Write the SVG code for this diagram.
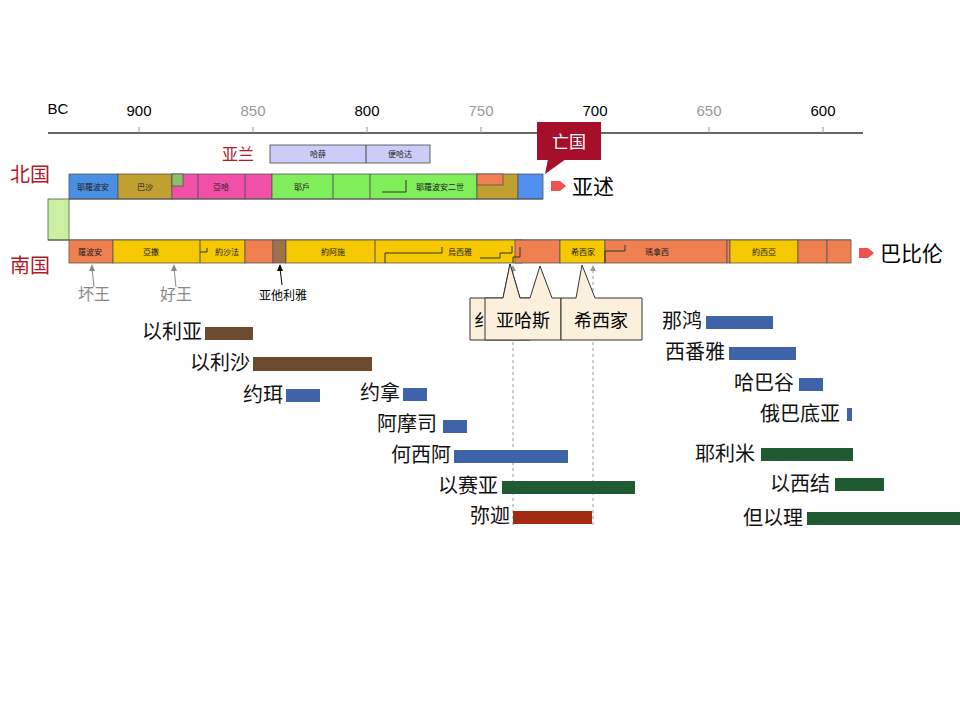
<svg xmlns="http://www.w3.org/2000/svg" width="960" height="720" viewBox="0 0 960 720">
<style>
text{font-family:"Noto Sans CJK SC","Liberation Sans",sans-serif}
.ax{font-family:"Liberation Sans",Arial,sans-serif;font-size:15px;text-anchor:middle}
.g{fill:#999}
.s{font-size:8px;text-anchor:middle;fill:#222}
.p{font-size:20px;text-anchor:end;fill:#111}
.seg{stroke:#555;stroke-width:0.8}
.br{fill:#6b4a2f}.bl{fill:#3f63a8}.gr{fill:#1f5a32}.rd{fill:#a32a10}
.cb{fill:#fbf0dc;stroke:#333;stroke-width:1}
</style>
<rect width="960" height="720" fill="#fff"/>
<g id="axis">
<line x1="48" y1="133" x2="863" y2="133" stroke="#333" stroke-width="1.5"/>
<g stroke="#999"><line x1="139" y1="127" x2="139" y2="133"/><line x1="253" y1="127" x2="253" y2="133"/><line x1="367" y1="127" x2="367" y2="133"/><line x1="481" y1="127" x2="481" y2="133"/><line x1="595" y1="127" x2="595" y2="133"/><line x1="709" y1="127" x2="709" y2="133"/><line x1="823" y1="127" x2="823" y2="133"/></g>
<text class="ax" x="58" y="114" font-size="14">BC</text>
<text class="ax" x="139" y="116">900</text><text class="ax g" x="253" y="116">850</text><text class="ax" x="367" y="116">800</text><text class="ax g" x="481" y="116">750</text><text class="ax" x="595" y="116">700</text><text class="ax g" x="709" y="116">650</text><text class="ax" x="823" y="116">600</text>
</g>
<g id="aram">
<text x="238" y="160" font-size="16" fill="#b01a2a" text-anchor="middle">亚兰</text>
<rect x="270" y="145" width="160" height="18" fill="#ccccf8" stroke="#444" stroke-width="0.8"/>
<line x1="366" y1="145" x2="366" y2="163" stroke="#444"/>
<text class="s" x="318" y="157">哈薛</text><text class="s" x="400" y="157">便哈达</text>
</g>
<g id="north">
<text x="10" y="182" font-size="20" fill="#b01a2a">北国</text>
<rect x="69" y="174" width="49" height="25" fill="#4a90e2" class="seg"/>
<rect x="118" y="174" width="54" height="25" fill="#c0a030" class="seg"/>
<rect x="172" y="174" width="100" height="25" fill="#f050a8" class="seg"/>
<rect x="172" y="174" width="11" height="12" fill="#8cbf6a" class="seg"/>
<line x1="198" y1="174" x2="198" y2="199" stroke="#555"/><line x1="245" y1="174" x2="245" y2="199" stroke="#555"/>
<rect x="272" y="174" width="205" height="25" fill="#7fee5a" class="seg"/>
<line x1="333" y1="174" x2="333" y2="199" stroke="#555"/><line x1="370" y1="174" x2="370" y2="199" stroke="#555"/>
<path d="M382 192H406V180" fill="none" stroke="#333"/>
<rect x="477" y="174" width="41" height="25" fill="#c0a030" class="seg"/>
<rect x="477" y="174" width="26" height="11" fill="#f08050" class="seg"/>
<rect x="518" y="174" width="25" height="25" fill="#5090ee" class="seg"/>
<text class="s" x="93" y="190">耶羅波安</text><text class="s" x="145" y="190">巴沙</text><text class="s" x="221" y="190">亞哈</text><text class="s" x="302" y="190">耶戶</text><text class="s" x="440" y="190">耶羅波安二世</text>
</g>
<g id="between">
<rect x="48" y="199" width="21" height="41" fill="#c8f0a0" stroke="#555" stroke-width="0.8"/>
<line x1="69" y1="199" x2="543" y2="199" stroke="#555"/>
<line x1="48" y1="240" x2="851" y2="240" stroke="#555"/>
</g>
<g id="collapse">
<rect x="537" y="122" width="64" height="38" fill="#a50f2a"/>
<path d="M548 159 L545 174 L566 159Z" fill="#a50f2a"/>
<text x="569" y="148" font-size="17" fill="#fff" text-anchor="middle">亡国</text>
<path d="M551 181h9l6 5l-6 5h-9z" fill="#f05050"/>
<text x="572" y="194" font-size="21">亚述</text>
</g>
<g id="south">
<text x="10" y="273" font-size="20" fill="#b01a2a">南国</text>
<rect x="69" y="240" width="44" height="23" fill="#f08050" class="seg"/>
<rect x="113" y="240" width="132" height="23" fill="#f5c800" class="seg"/>
<line x1="200" y1="240" x2="200" y2="263" stroke="#555"/>
<path d="M200 252H207V248M245 253H257V246" fill="none" stroke="#333"/>
<rect x="245" y="240" width="28" height="23" fill="#f08050" class="seg"/>
<rect x="273" y="240" width="13" height="23" fill="#a0704a" class="seg"/>
<rect x="286" y="240" width="236" height="23" fill="#f5c800" class="seg"/>
<line x1="375" y1="240" x2="375" y2="263" stroke="#555"/>
<path d="M385 263V253H442V247M480 258H500V253H512V246" fill="none" stroke="#333"/>
<rect x="515" y="240" width="45" height="23" fill="#f08050" class="seg"/>
<path d="M513 263V257H520V247" fill="none" stroke="#333"/>
<rect x="560" y="240" width="45" height="23" fill="#f5c800" class="seg"/>
<rect x="605" y="240" width="122" height="23" fill="#f08050" class="seg"/>
<path d="M605 263V251H625V245" fill="none" stroke="#333"/>
<rect x="727" y="240" width="3" height="23" fill="#f08050" class="seg"/>
<rect x="730" y="240" width="68" height="23" fill="#f5c800" class="seg"/>
<rect x="798" y="240" width="29" height="23" fill="#f08050" class="seg"/>
<rect x="827" y="240" width="24" height="23" fill="#f08050" class="seg"/>
<text class="s" x="90" y="255">羅波安</text><text class="s" x="151" y="255">亞撒</text><text class="s" x="227" y="255">約沙法</text><text class="s" x="333" y="255">約阿施</text><text class="s" x="460" y="255">烏西雅</text><text class="s" x="583" y="255">希西家</text><text class="s" x="657" y="255">瑪拿西</text><text class="s" x="764" y="255">約西亞</text>
<path d="M859 248h9l6 5l-6 5h-9z" fill="#f05050"/>
<text x="880" y="261" font-size="21">巴比伦</text>
</g>
<g id="kings">
<path d="M94 287 L92 268" stroke="#888" fill="none"/><path d="M92 264l-3 7h6z" fill="#888"/>
<text x="94" y="300" font-size="16" fill="#888" text-anchor="middle">坏王</text>
<path d="M176 287 L174 268" stroke="#888" fill="none"/><path d="M174 264l-3 7h6z" fill="#888"/>
<text x="176" y="300" font-size="16" fill="#888" text-anchor="middle">好王</text>
<path d="M282 285 L280 268" stroke="#000" fill="none"/><path d="M280 264l-3 7h6z" fill="#000"/>
<text x="283" y="300" font-size="12" text-anchor="middle">亚他利雅</text>
</g>
<g id="refs" stroke="#999" stroke-dasharray="3,3">
<line x1="513" y1="270" x2="513" y2="525"/><line x1="593" y1="270" x2="593" y2="525"/>
</g>
<path d="M513 265l-3 6h6zM593 265l-3 6h6z" fill="#999"/>
<g id="callouts">
<path d="M470 298H503L510 264L520 298H530V340H470Z" class="cb"/>
<text x="474" y="327" font-size="18">纟</text>
<path d="M485 298H503L510 264L520 298H530L540 266L552 298H561V340H485Z" class="cb"/>
<text x="523" y="327" font-size="18" text-anchor="middle">亚哈斯</text>
<path d="M561 298H576L582 265L595 298H642V340H561Z" class="cb"/>
<text x="601" y="327" font-size="18" text-anchor="middle">希西家</text>
</g>
<g id="prophets">
<text class="p" x="202" y="339">以利亚</text><rect class="br" x="205" y="327" width="48" height="13"/>
<text class="p" x="250" y="370">以利沙</text><rect class="br" x="253" y="357" width="119" height="14"/>
<text class="p" x="283" y="402">约珥</text><rect class="bl" x="286" y="389" width="34" height="13"/>
<text class="p" x="400" y="400">约拿</text><rect class="bl" x="403" y="388" width="24" height="13"/>
<text class="p" x="437" y="431">阿摩司</text><rect class="bl" x="443" y="420" width="24" height="13"/>
<text class="p" x="451" y="462">何西阿</text><rect class="bl" x="454" y="450" width="114" height="13"/>
<text class="p" x="498" y="493">以赛亚</text><rect class="gr" x="502" y="481" width="133" height="13"/>
<text class="p" x="510" y="523">弥迦</text><rect class="rd" x="513" y="511" width="79" height="13"/>
<text class="p" x="702" y="328">那鸿</text><rect class="bl" x="706" y="316" width="67" height="13"/>
<text class="p" x="725" y="359">西番雅</text><rect class="bl" x="729" y="347" width="67" height="13"/>
<text class="p" x="794" y="390">哈巴谷</text><rect class="bl" x="799" y="378" width="24" height="13"/>
<text class="p" x="840" y="421">俄巴底亚</text><rect class="bl" x="847" y="408" width="5" height="13"/>
<text class="p" x="755" y="461">耶利米</text><rect class="gr" x="761" y="448" width="92" height="13"/>
<text class="p" x="830" y="491">以西结</text><rect class="gr" x="835" y="478" width="49" height="13"/>
<text class="p" x="803" y="525">但以理</text><rect class="gr" x="807" y="512" width="153" height="13"/>
</g>
</svg>
